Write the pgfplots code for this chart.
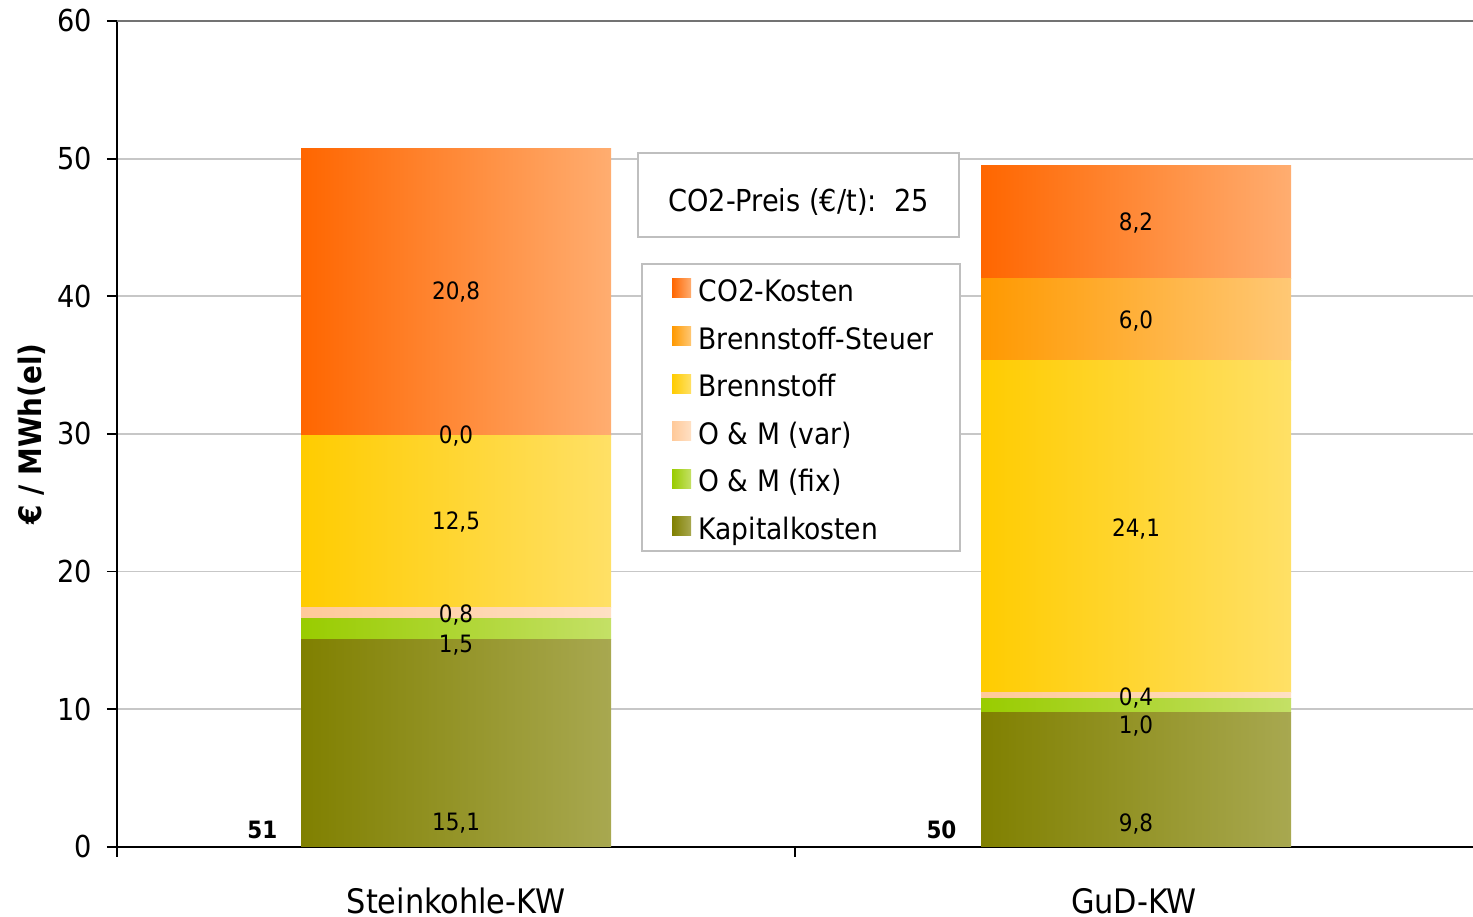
\documentclass[border=0pt]{standalone}
\usepackage{fontspec}
\setmainfont{DejaVu Sans Condensed}
\usepackage{pgfplots}
\pgfplotsset{compat=1.18}
\definecolor{coL}{HTML}{FF6600}\definecolor{coR}{HTML}{FFAD70}
\definecolor{stL}{HTML}{FF9900}\definecolor{stR}{HTML}{FFC875}
\definecolor{brL}{HTML}{FFCC00}\definecolor{brR}{HTML}{FFE066}
\definecolor{vaL}{HTML}{FFC999}\definecolor{vaR}{HTML}{FFE0C4}
\definecolor{fiL}{HTML}{99CC00}\definecolor{fiR}{HTML}{C4E066}
\definecolor{kaL}{HTML}{808000}\definecolor{kaR}{HTML}{A8A850}
\newcommand\tickfont{\fontsize{8.6}{10}\selectfont}
\newcommand\legfont{\fontsize{8.4}{10}\selectfont}
\newcommand\valfont{\fontsize{6.8}{8}\selectfont}
\pgfplotsset{base/.style={scale only axis, width=385.8pt, height=235pt,
  xmin=-0.5, xmax=1.5, ymin=0, ymax=60}}
\begin{document}
\begin{tikzpicture}
\begin{axis}[base,
  ybar stacked, bar width=88.2pt,
  axis x line*=bottom, axis y line*=left,
  axis line style={black, line width=0.6pt},
  xtick={0,1}, xticklabels={Steinkohle-KW, GuD-KW},
  minor xtick={-0.5,0.5},
  ytick={0,10,...,50}, extra y ticks={60},
  extra y tick style={grid style={draw=black!55, line width=0.8pt}, major tick style={draw=black!55}},
  ymajorgrids, grid style={draw=black!22, line width=0.5pt},
  tick align=outside,
  major x tick style={draw=none},
  minor x tick style={black, line width=0.5pt},
  major y tick style={black, line width=0.5pt},
  minor tick length=2.85pt, major tick length=2.85pt,
  /pgf/number format/assume math mode=true,
  yticklabel style={font=\tickfont, anchor=east, inner sep=0pt, xshift=-4pt},
  xticklabel style={font=\fontsize{9.6}{11}\selectfont, anchor=base, yshift=-16pt},
  ylabel={\bfseries € / MWh(el)},
  every axis y label/.style={at={(axis description cs:-0.0627,0.5)}, rotate=90, anchor=center, font=\fontsize{8.8}{10}\selectfont},
  legend image code/.code={\pgfpathrectangle{\pgfpoint{0pt}{-2.7pt}}{\pgfpoint{7.4pt}{5.4pt}}\pgfusepath{discard}\path[#1, draw=none] (2pt,-2.7pt) rectangle (7.4pt,2.7pt);},
  reverse legend,
  legend style={at={(0.3864,0.707)}, anchor=north west, draw=black!25, line width=0.5pt, fill=white,
    font=\legfont, inner xsep=6.6pt, inner ysep=1.2pt, row sep=2.0pt,
    /tikz/every odd column/.append style={column sep=1.15pt},
    nodes={inner sep=1pt, text height=8.54pt, text depth=1pt}, cells={anchor=west}},
]
\addplot[draw=none, left color=kaL, right color=kaR] coordinates {(0,15.1)};
\addlegendentry{Kapitalkosten}
\addplot[draw=none, left color=fiL, right color=fiR] coordinates {(0,1.5)};
\addlegendentry{O \& M (fix)}
\addplot[draw=none, left color=vaL, right color=vaR] coordinates {(0,0.8)};
\addlegendentry{O \& M (var)}
\addplot[draw=none, left color=brL, right color=brR] coordinates {(0,12.5)};
\addlegendentry{Brennstoff}
\addplot[draw=none, left color=stL, right color=stR] coordinates {(0,0.0)};
\addlegendentry{Brennstoff-Steuer}
\addplot[draw=none, left color=coL, right color=coR] coordinates {(0,20.8)};
\addlegendentry{CO2-Kosten}
\node[draw=black!25, line width=0.5pt, fill=white, minimum width=91.3pt, minimum height=23.9pt,
  inner sep=0pt, text height=9pt, text depth=0pt, font=\fontsize{8.6}{10}\selectfont]
  at (rel axis cs:0.5026,0.789) {CO2-Preis (€/t):\ \ 25};
\end{axis}
\begin{axis}[base, hide axis, ybar stacked, bar width=88.2pt]
\addplot[draw=none, left color=kaL, right color=kaR] coordinates {(1.003,9.8)};
\addplot[draw=none, left color=fiL, right color=fiR] coordinates {(1.003,1.0)};
\addplot[draw=none, left color=vaL, right color=vaR] coordinates {(1.003,0.4)};
\addplot[draw=none, left color=brL, right color=brR] coordinates {(1.003,24.1)};
\addplot[draw=none, left color=stL, right color=stR] coordinates {(1.003,6.0)};
\addplot[draw=none, left color=coL, right color=coR] coordinates {(1.003,8.2)};
\end{axis}
\begin{axis}[base, hide axis]
\addplot[draw=none, nodes near coords, point meta=explicit symbolic,
  nodes near coords style={anchor=base, font=\valfont, inner sep=0pt}] table[meta=l] {
x y l
0 1.16 15,1
0 14.09 1,5
0 16.34 0,8
0 23.06 12,5
0 29.34 0,0
0 39.76 20,8
1.003 1.09 9,8
1.003 8.21 1,0
1.003 10.24 0,4
1.003 22.55 24,1
1.003 37.65 6,0
1.003 44.77 8,2
};
\addplot[draw=none, nodes near coords, point meta=explicit symbolic,
  nodes near coords style={anchor=base, font=\valfont\bfseries, inner sep=0pt}] table[meta=l] {
x y l
-0.2857 0.58 51
0.716 0.58 50
};
\end{axis}
\pgfresetboundingbox
\path ([shift={(-33.29pt,-19.92pt)}]current axis.south west) rectangle ([shift={(0pt,5.97pt)}]current axis.north east);
\end{tikzpicture}
\end{document}
